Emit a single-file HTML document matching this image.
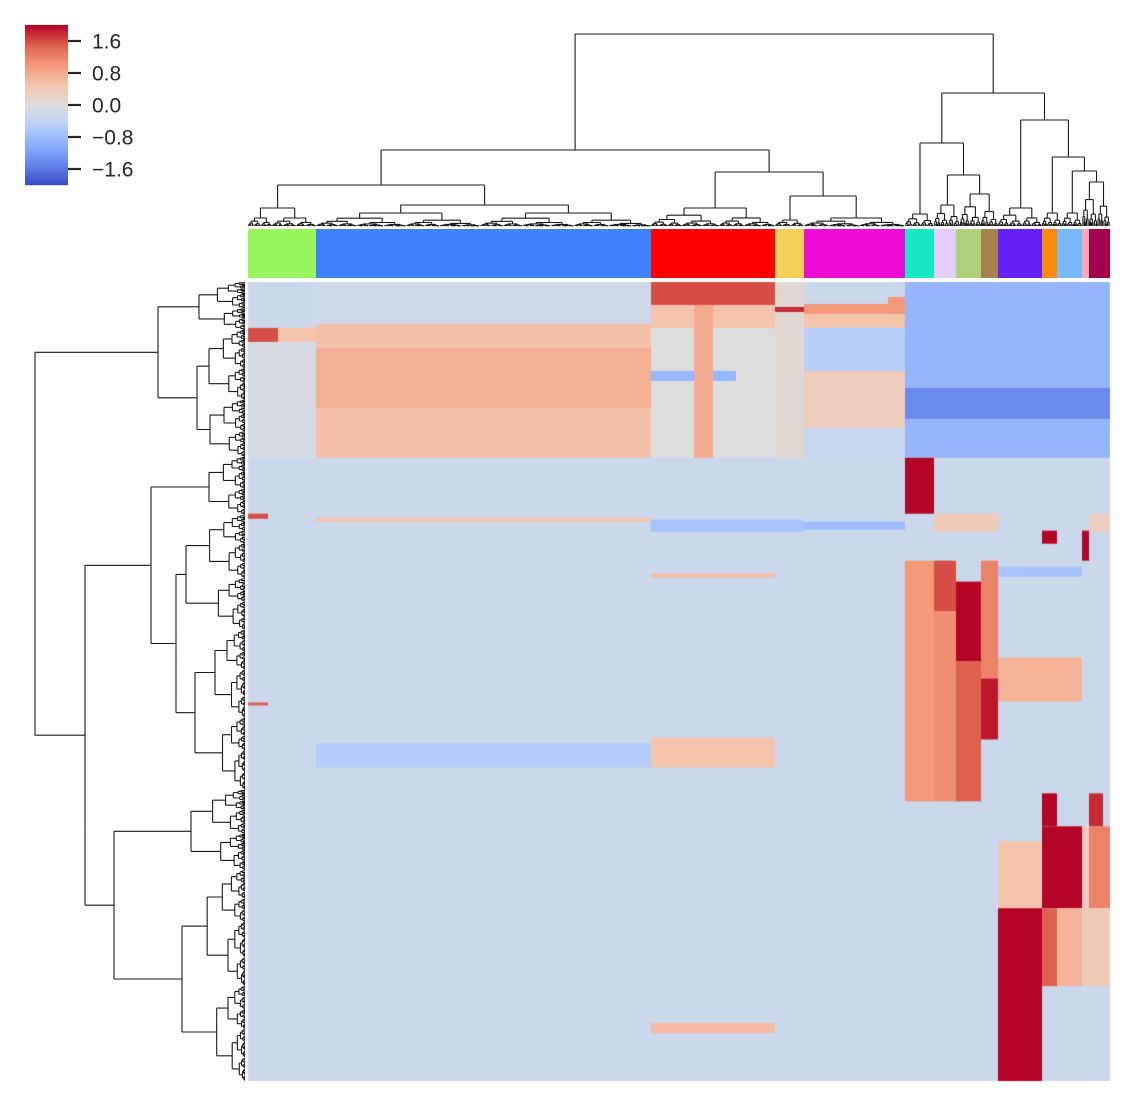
<!DOCTYPE html>
<html><head><meta charset="utf-8">
<style>
html,body{margin:0;padding:0;background:#fff;}
#wrap{position:relative;width:1134px;height:1106px;overflow:hidden;font-family:"Liberation Sans",sans-serif;}
#hm{position:absolute;left:0;top:0;}
#ov{position:absolute;left:0;top:0;}
</style></head>
<body>
<div id="wrap">
<canvas id="hm" width="1134" height="1106"></canvas>
<svg id="ov" width="1134" height="1106"></svg>
</div>
<script>
// ---- data ----
const groupNames = ["green","blue","red","yellow","magenta","teal","lavender","olive","brown","purple","orange","lightblue","pink","maroon"];
const groupColors = ["#9af65c","#4082fb","#ff0000","#f4d15a","#ee0cd4","#17e8c4","#e4ccfb","#b1d07b","#a6804e","#6520f5","#fb890e","#78b9fb","#f6aabc","#a3004e"];
const groupStart = [0,68,403,527,556,657,686,708,733,750,794,809,834,841];
const groupEnd   = [68,403,527,556,657,686,708,733,750,794,809,834,841,862];
const nRows = 800, nCols = 862;
const backgroundValue = -0.25;
// patches: row range, column range, value (later override earlier)
const patchR0 = [0,42,66,46,46,60,0,23,46,89,23,0,25,22,32,46,89,146,0,0,106,15,176,232,236,238,240,232,249,249,232,285,292,279,279,330,300,380,279,397,376,512,512,545,560,545,545,627,627,627,627,456,462,742,421];
const patchR1 = [42,176,126,60,60,176,23,46,176,99,176,176,30,32,46,89,146,176,15,176,137,32,232,237,240,250,248,250,262,279,250,295,296,520,330,520,380,520,397,458,420,545,545,627,627,627,627,800,705,705,705,486,486,752,424];
const patchC0 = [68,68,68,0,30,0,403,403,403,403,446,527,527,556,556,556,556,556,657,657,657,640,657,0,68,403,556,686,794,834,841,733,403,657,686,686,708,708,733,733,750,794,841,794,750,841,834,750,794,809,834,403,68,403,0];
const patchC1 = [403,403,403,30,68,68,527,527,527,488,465,556,556,657,657,657,657,657,862,862,862,657,686,20,403,556,657,750,809,841,862,834,527,686,708,708,733,733,750,750,834,809,855,834,794,862,841,794,809,834,862,527,403,527,20];
const patchV  = [-0.2,0.55,0.75,1.6,0.5,-0.1,1.6,0.5,0.0,-0.9,0.8,0.1,1.8,1.0,0.5,-0.5,0.35,-0.3,-0.5,-0.9,-1.4,1.0,2.2,1.6,0.5,-0.7,-0.8,0.4,2.2,2.2,0.3,-0.7,0.6,1.0,1.6,1.1,2.2,1.5,1.2,1.9,0.7,2.2,1.8,2.0,0.5,1.2,0.3,2.2,1.5,0.7,0.4,0.5,-0.55,0.6,1.5];
const cbTicks = [1.6,0.8,0.0,-0.8,-1.6];
const cbLabels = ["1.6","0.8","0.0","\u22120.8","\u22121.6"];

// ---- scales ----
const HX0=248, HX1=1110, HY0=282, HY1=1081;
const xS = c => HX0 + c*(HX1-HX0)/nCols;
const yS = r => HY0 + r*(HY1-HY0)/nRows;
const vmin=-2, vmax=2;
const cw = [[59,76,192],[98,130,234],[141,176,254],[184,208,249],[221,221,221],[245,196,173],[244,154,123],[222,96,77],[180,4,38]];
function cmap(v){
  let t=(v-vmin)/(vmax-vmin); t=Math.max(0,Math.min(1,t));
  const f=t*8, i=Math.min(7,Math.floor(f)), u=f-i;
  const a=cw[i], b=cw[i+1];
  return "rgb("+a.map((x,k)=>Math.round(x+(b[k]-x)*u)).join(",")+")";
}

// ---- heatmap ----
const ctx=document.getElementById('hm').getContext('2d');
ctx.fillStyle=cmap(backgroundValue);
ctx.fillRect(xS(0),yS(0),xS(nCols)-xS(0),yS(nRows)-yS(0));
for(let i=0;i<patchV.length;i++){
  ctx.fillStyle=cmap(patchV[i]);
  ctx.fillRect(xS(patchC0[i]),yS(patchR0[i]),xS(patchC1[i])-xS(patchC0[i]),yS(patchR1[i])-yS(patchR0[i]));
}

// ---- svg overlay ----
const NS="http://www.w3.org/2000/svg";
const svg=document.getElementById('ov');
function mk(tag,attrs,parent){const e=document.createElementNS(NS,tag);for(const k in attrs)e.setAttribute(k,attrs[k]);(parent||svg).appendChild(e);return e;}

// column color strip
const strip=mk('g',{});


for(let g=0;g<groupNames.length;g++){
  const r=mk('rect',{x:xS(groupStart[g]),y:229,width:xS(groupEnd[g])-xS(groupStart[g]),height:49,fill:groupColors[g]},strip);
  
  
}

// colorbar
const cb=mk('g',{});


const CBX=25,CBW=43,CBY0=25,CBY1=185;
const cbY=v=>CBY1-(v-vmin)/(vmax-vmin)*(CBY1-CBY0);
for(let k=0;k<160;k++){
  const v=vmin+(k+0.5)*(vmax-vmin)/160;
  mk('rect',{x:CBX,y:cbY(v)-0.6,width:CBW,height:1.3,fill:cmap(v)},cb);
}
cbTicks.forEach((v,i)=>{
  mk('line',{x1:68,x2:81,y1:cbY(v),y2:cbY(v),stroke:'#262626','stroke-width':2.2},cb);
  const t=mk('text',{x:92,y:cbY(v)+7.5,'font-size':21,fill:'#262626','font-family':'Liberation Sans, sans-serif'},cb);
  t.textContent=cbLabels[i];
  
  
});

// dendrograms
const dg=mk('g',{stroke:'#1a1a1a','stroke-width':1.1,fill:'none'});


let pathD={top:"",left:""};
function seg(o,p1,h1,p2,h2){
  if(o==='top') pathD.top+="M"+p1.toFixed(1)+" "+h1.toFixed(1)+"L"+p2.toFixed(1)+" "+h2.toFixed(1);
  else pathD.left+="M"+h1.toFixed(1)+" "+p1.toFixed(1)+"L"+h2.toFixed(1)+" "+p2.toFixed(1);
}
function grow(a,b,h,o,base,d){
  if(b-a<1.8||d>10){const m=(a+b)/2;seg(o,m,h,m,base);return m;}
  const m=a+(b-a)*(d%2?0.45:0.55);
  const h1=h+(base-h)*0.4, h2=h+(base-h)*0.55;
  const p1=grow(a,m,h1,o,base,d+1), p2=grow(m,b,h2,o,base,d+1);
  seg(o,p1,h,p1,h1);seg(o,p2,h,p2,h2);seg(o,p1,h,p2,h);
  return (p1+p2)/2;
}
function build(n,o,base){
  if(n.leaf) return grow(n.leaf[0],n.leaf[1],n.h,o,base,0);
  const p1=build(n.k[0],o,base), p2=build(n.k[1],o,base);
  seg(o,p1,n.h,p1,n.k[0].h);seg(o,p2,n.h,p2,n.k[1].h);seg(o,p1,n.h,p2,n.h);
  return (p1+p2)/2;
}
const L=(a,b,h)=>({leaf:[a,b],h:h});
const topTree={h:34,k:[
  {h:150,k:[
    {h:185,k:[{h:208,k:[L(248,272,218),L(272,316,218)]},{h:205,k:[L(316,480,213),L(480,651,213)]}]},
    {h:172,k:[L(651,775,208),{h:196,k:[L(775,804,220),L(804,905,218)]}]}
  ]},
  {h:93,k:[
    {h:143,k:[L(905,934,214),{h:175,k:[L(934,960,205),L(960,998,194)]}]},
    {h:120,k:[L(998,1042,208),{h:157,k:[L(1042,1062,213),{h:171,k:[L(1062,1082,213),L(1082,1110,182)]}]}]}
  ]}
]};
const leftTree={h:35,k:[
  {h:158,k:[L(282,330,199),{h:197,k:[L(330,400,209),L(400,457,210)]}]},
  {h:85,k:[
    {h:151,k:[L(457,515,209),{h:176,k:[L(515,630,186),L(630,790,195)]}]},
    {h:114,k:[L(790,870,191),L(870,1081,182)]}
  ]}
]};
build(topTree,'top',226);
build(leftTree,'left',245);
const pt=mk('path',{d:pathD.top},dg);


const pl=mk('path',{d:pathD.left},dg);


</script>
</body></html>
